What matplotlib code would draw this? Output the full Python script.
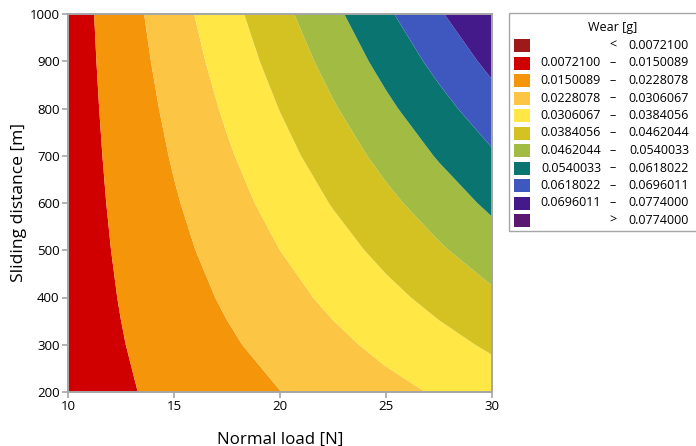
import numpy as np
import matplotlib
matplotlib.use("Agg")
import matplotlib.pyplot as plt
from matplotlib.patches import Rectangle

# Normal load [N] and sliding distance [m] grid
loads = [10.0, 12.5, 15.0, 17.5, 20.0, 22.5, 25.0, 27.5, 30.0]
distances = [200, 300, 400, 500, 600, 700, 800, 900, 1000]

# Wear [g]: one row per sliding distance, one column per normal load
wear = [
    [0.01122, 0.01410, 0.01697, 0.01985, 0.02272, 0.02560, 0.02847, 0.03135, 0.03422],
    [0.01115, 0.01469, 0.01824, 0.02179, 0.02534, 0.02888, 0.03243, 0.03598, 0.03953],
    [0.01108, 0.01531, 0.01953, 0.02375, 0.02797, 0.03220, 0.03642, 0.04064, 0.04486],
    [0.01103, 0.01593, 0.02082, 0.02572, 0.03061, 0.03551, 0.04040, 0.04530, 0.05019],
    [0.01099, 0.01656, 0.02213, 0.02770, 0.03327, 0.03884, 0.04441, 0.04998, 0.05555],
    [0.01096, 0.01720, 0.02345, 0.02969, 0.03593, 0.04217, 0.04842, 0.05466, 0.06090],
    [0.01094, 0.01786, 0.02477, 0.03169, 0.03860, 0.04552, 0.05243, 0.05935, 0.06626],
    [0.01094, 0.01853, 0.02612, 0.03371, 0.04130, 0.04889, 0.05648, 0.06407, 0.07166],
    [0.01094, 0.01920, 0.02747, 0.03573, 0.04399, 0.05225, 0.06052, 0.06878, 0.07704],
]

# Contour break points
breaks = [0.0072100, 0.0150089, 0.0228078, 0.0306067, 0.0384056,
          0.0462044, 0.0540033, 0.0618022, 0.0696011, 0.0774000]

band_colors = ["#9E1A1A", "#D10000", "#F5960A", "#FCC544", "#FFE845",
               "#D4C122", "#A2BC43", "#097470", "#3F58BF", "#441A8A", "#5A1870"]

legend_title = "Wear [g]"
x_ticks = [10, 15, 20, 25, 30]
y_ticks = [200, 300, 400, 500, 600, 700, 800, 900, 1000]

plt.rcParams["font.family"] = ["Open Sans", "DejaVu Sans"]
ink = "#000000"

fig = plt.figure(figsize=(6.96, 4.46), dpi=100)
ax = fig.add_axes([68 / 696, 1 - 392 / 446, 424 / 696, 378 / 446])

X, Y = np.meshgrid(loads, distances)
Z = np.array(wear)
levels = [-1.0] + breaks + [1.0]
ax.contourf(X, Y, Z, levels=levels, colors=band_colors, antialiased=True)

ax.set_xlim(10, 30)
ax.set_ylim(200, 1000)
ax.set_xticks(x_ticks)
ax.set_yticks(y_ticks)
frame = "#A6A6A6"
for sp in ax.spines.values():
    sp.set_color(frame)
    sp.set_linewidth(1.4)
ax.tick_params(direction="out", length=4, width=1.2, color=frame,
               labelsize=9.5, labelcolor=ink, pad=2)
ax.set_xlabel("Normal load [N]", fontsize=12.2, color=ink, labelpad=13)
ax.set_ylabel("Sliding distance [m]", fontsize=12.6, color=ink, labelpad=2)

# Legend panel drawn in pixel coordinates of the figure
W, H = 696, 446


def fx(px):
    return px / W


def fy(py):
    return 1 - py / H


fig.patches.append(Rectangle((fx(509), fy(231)), fx(705) - fx(509), fy(13) - fy(231),
                             transform=fig.transFigure, facecolor="white",
                             edgecolor="#A6A6A6", linewidth=1.0))
fig.text(fx(613), fy(28), legend_title, ha="center", va="center",
         fontsize=9, color=ink)

labels_left = [""] + [f"{b:.7f}" for b in breaks[:-1]] + [""]
labels_right = ([f"{breaks[0]:.7f}"] + [f"{b:.7f}" for b in breaks[1:]]
                + [f"{breaks[-1]:.7f}"])
for i, col in enumerate(band_colors):
    yc = 45.5 + i * 17.5
    fig.patches.append(Rectangle((fx(514), fy(yc + 6.5)), fx(530) - fx(514), 13 / H,
                                 transform=fig.transFigure, facecolor=col,
                                 edgecolor="none"))
    if i == 0:
        sep = "<"
    elif i == len(band_colors) - 1:
        sep = ">"
    else:
        sep = "\u2013"
    fig.text(fx(613), fy(yc), sep, ha="center", va="center", fontsize=9, color=ink)
    if labels_left[i]:
        fig.text(fx(601), fy(yc), labels_left[i], ha="right", va="center",
                 fontsize=9, color=ink)
    fig.text(fx(689), fy(yc), labels_right[i], ha="right", va="center",
             fontsize=9, color=ink)

fig.savefig("out.png", dpi=100)
